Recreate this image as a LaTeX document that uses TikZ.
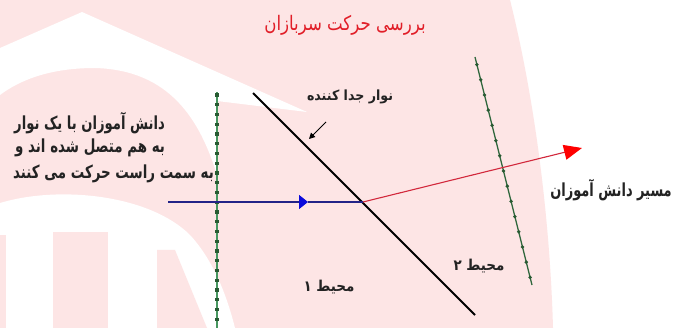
\documentclass[tikz,border=0pt]{standalone}
\usepackage{fontspec}
\usetikzlibrary{arrows.meta,calc}
\TeXXeTstate=1
\newfontfamily\fa[Script=Arabic]{DejaVu Sans}
\definecolor{wmpink}{RGB}{253,229,229}
\definecolor{titlered}{RGB}{225,30,40}
\definecolor{gline}{RGB}{70,150,95}
\definecolor{gdot}{RGB}{40,90,50}
\definecolor{navyline}{RGB}{35,35,135}
\definecolor{redline}{RGB}{210,40,60}
\definecolor{txtcol}{RGB}{35,35,35}
\tikzset{
  lbl/.style={inner sep=0pt, text=txtcol},
  greenline/.style={draw=gline, line width=1.3pt},
  gdotmark/.style={fill=gdot},
  sepline/.style={draw=black, line width=1.8pt},
  blueflow/.style={draw=navyline, line width=1.4pt},
  redflow/.style={draw=redline, line width=1.1pt},
}
\begin{document}
\begin{tikzpicture}[x=1pt,y=-1pt]
\useasboundingbox (0,0) rectangle (676,328);
\fill[white] (0,0) rectangle (676,328);
% watermark
\fill[wmpink] (0,0) -- (510,0) .. controls (535,100) and (550,220) .. (553,328) -- (0,328) -- cycle;
\fill[white] (0,48) -- (82,12) -- (307,112) -- (217,101) -- (217,175) .. controls (200,120) and (170,70) .. (95,68) .. controls (50,68) and (20,80) .. (0,95) -- cycle;
\fill[white] (0,203) .. controls (60,185) and (150,195) .. (190,235) .. controls (215,262) and (228,300) .. (235,328) -- (0,328) -- cycle;
\fill[wmpink] (0,235) rectangle (6,328);
\fill[wmpink] (53,232) rectangle (108,328);
\fill[wmpink] (157,250) -- (175,250) -- (207,328) -- (157,328) -- cycle;

% coordinates
\coordinate (lgTop) at (217,92);
\coordinate (lgBot) at (217,328);
\coordinate (rgTop) at (475,57);
\coordinate (rgBot) at (532,285);
\coordinate (sepTop) at (253,93);
\coordinate (sepBot) at (475,315);
\coordinate (hit) at (363,202);
\coordinate (blueStart) at (168,202);
\coordinate (blueTip) at (308,202);
\coordinate (redTip) at (582,148);
\coordinate (arrFrom) at (326,122);
\coordinate (arrTo) at (309,139);

% green dotted lines
\draw[greenline] (lgTop) -- (lgBot);
\foreach \k in {0,...,23} \fill[gdotmark] ({217-1.7},{95+9.75*\k-1.7}) rectangle ++(3.4,3.4);
\draw[greenline, draw=gdot!80!gline] (rgTop) -- (rgBot);
\foreach \k [evaluate=\k as \t using (\k+0.5)/15] in {0,...,14}
  \fill[gdotmark] ($(rgTop)!\t!(rgBot)$) circle (1.9);

% separator
\draw[sepline] (sepTop) -- (sepBot);
% flows
\draw[blueflow, -{Triangle[length=9pt,width=14pt,color=blue!70!navyline]}] (blueStart) -- (blueTip);
\draw[blueflow] (blueTip) -- (hit);
\draw[redflow, -{Triangle[length=18pt,width=15pt,color=red]}] (hit) -- (redTip);
\draw[line width=0.9pt, -{Triangle[length=6pt,width=6pt]}] (arrFrom) -- (arrTo);

% labels
\node[lbl, text=titlered, font=\fa\fontsize{20}{24}\selectfont] (title) at (345,25) {\scalebox{0.83}[1]{\beginR بررسی حرکت سربازان\endR}};
\node[lbl, font=\fa\bfseries\fontsize{14}{16}\selectfont] (seplabel) at (350,97) {\scalebox{0.9}[1]{\beginR نوار جدا کننده\endR}};
\node[lbl, anchor=west, font=\fa\bfseries\fontsize{18}{20}\selectfont] (leftA) at (14,123) {\scalebox{0.73}[1]{\beginR دانش آموزان با یک نوار\endR}};
\node[lbl, anchor=west, font=\fa\bfseries\fontsize{18}{20}\selectfont] (leftB) at (15,148) {\scalebox{0.745}[1]{\beginR به هم متصل شده اند و\endR}};
\node[lbl, anchor=west, font=\fa\bfseries\fontsize{18}{20}\selectfont] (leftC) at (13,174) {\scalebox{0.744}[1]{\beginR به سمت راست حرکت می کنند\endR}};
\node[lbl, font=\fa\bfseries\fontsize{18}{20}\selectfont] (pathlabel) at (611,190) {\scalebox{0.72}[1]{\beginR مسیر دانش آموزان\endR}};
\node[lbl, font=\fa\bfseries\fontsize{15}{17}\selectfont] (env1) at (329,287) {\scalebox{0.9}[1]{\beginR محیط ۱\endR}};
\node[lbl, font=\fa\bfseries\fontsize{15}{17}\selectfont] (env2) at (479,266) {\scalebox{0.9}[1]{\beginR محیط ۲\endR}};
\end{tikzpicture}
\end{document}
